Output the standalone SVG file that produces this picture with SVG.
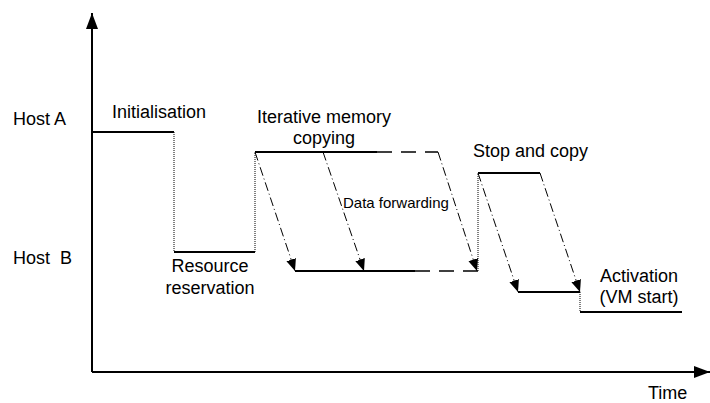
<svg xmlns="http://www.w3.org/2000/svg" width="710" height="403" viewBox="0 0 710 403">
  <defs>
    <marker id="axisHead" markerUnits="userSpaceOnUse" markerWidth="18" markerHeight="14" refX="16" refY="6" orient="auto">
      <path d="M0,0 L16,6 L0,12 Z" fill="#000"/>
    </marker>
    <marker id="flowHead" markerUnits="userSpaceOnUse" markerWidth="14" markerHeight="12" refX="12" refY="5" orient="auto">
      <path d="M0,0 L12,5 L0,10 Z" fill="#000"/>
    </marker>
  </defs>
  <style>
    .label { font-family: "Liberation Sans", Arial, sans-serif; font-size: 18px; fill: #000; white-space: pre; }
    .small { font-size: 15px; }
    .axis { stroke: #000; stroke-width: 2; fill: none; }
    .state { stroke: #000; stroke-width: 2; fill: none; }
    .pending { stroke: #000; stroke-width: 1.6; fill: none; stroke-dasharray: 15 9; }
    .switch { stroke: #000; stroke-width: 1; fill: none; stroke-dasharray: 1 1; }
    .flow { stroke: #000; stroke-width: 1; fill: none; stroke-dasharray: 9 3 1 3; marker-end: url(#flowHead); }
  </style>
  <rect width="710" height="403" fill="#fff"/>

  <!-- axes -->
  <g id="axes">
    <line class="axis" x1="92" y1="372" x2="92" y2="13" marker-end="url(#axisHead)"/>
    <line class="axis" x1="92" y1="372" x2="710" y2="372" marker-end="url(#axisHead)"/>
    <text class="label" x="13" y="125">Host A</text>
    <text class="label" x="13" y="264">Host  B</text>
    <text class="label" x="648" y="399">Time</text>
  </g>

  <!-- migration phases -->
  <g id="initialisation">
    <line class="state" x1="92" y1="132" x2="174" y2="132"/>
    <text class="label" x="112" y="118">Initialisation</text>
  </g>
  <g id="reservation">
    <line class="state" x1="174" y1="252" x2="255" y2="252"/>
    <text class="label" x="210" y="272" text-anchor="middle">Resource</text>
    <text class="label" x="210" y="294" text-anchor="middle">reservation</text>
  </g>
  <g id="iterative-copy">
    <line class="state" x1="255" y1="152" x2="377" y2="152"/>
    <line class="pending" x1="377" y1="152" x2="438" y2="152"/>
    <text class="label" x="324" y="123" text-anchor="middle">Iterative memory</text>
    <text class="label" x="324" y="144" text-anchor="middle">copying</text>
  </g>
  <g id="forwarding">
    <line class="state" x1="295" y1="271" x2="415" y2="271"/>
    <line class="pending" x1="415" y1="271" x2="478" y2="271"/>
    <text class="label small" x="343" y="208">Data forwarding</text>
  </g>
  <g id="stop-copy">
    <line class="state" x1="478" y1="173" x2="540" y2="173"/>
    <text class="label" x="473" y="157">Stop and copy</text>
  </g>
  <g id="final-copy">
    <line class="state" x1="518" y1="292" x2="580" y2="292"/>
  </g>
  <g id="activation">
    <line class="state" x1="580" y1="312" x2="682" y2="312"/>
    <text class="label" x="639" y="282" text-anchor="middle">Activation</text>
    <text class="label" x="639" y="303" text-anchor="middle">(VM start)</text>
  </g>

  <!-- transitions and transfers -->
  <g id="connectors">
    <line class="switch" x1="174" y1="132" x2="174" y2="252"/>
    <line class="switch" x1="255" y1="252" x2="255" y2="152"/>
    <line class="switch" x1="478" y1="271" x2="478" y2="173"/>
    <line class="switch" x1="580" y1="292" x2="580" y2="312"/>
    <line class="flow" x1="255" y1="152" x2="295" y2="271"/>
    <line class="flow" x1="323" y1="152" x2="364" y2="271"/>
    <line class="flow" x1="438" y1="152" x2="477" y2="271"/>
    <line class="flow" x1="478" y1="173" x2="518" y2="292"/>
    <line class="flow" x1="540" y1="173" x2="580" y2="292"/>
  </g>
</svg>
